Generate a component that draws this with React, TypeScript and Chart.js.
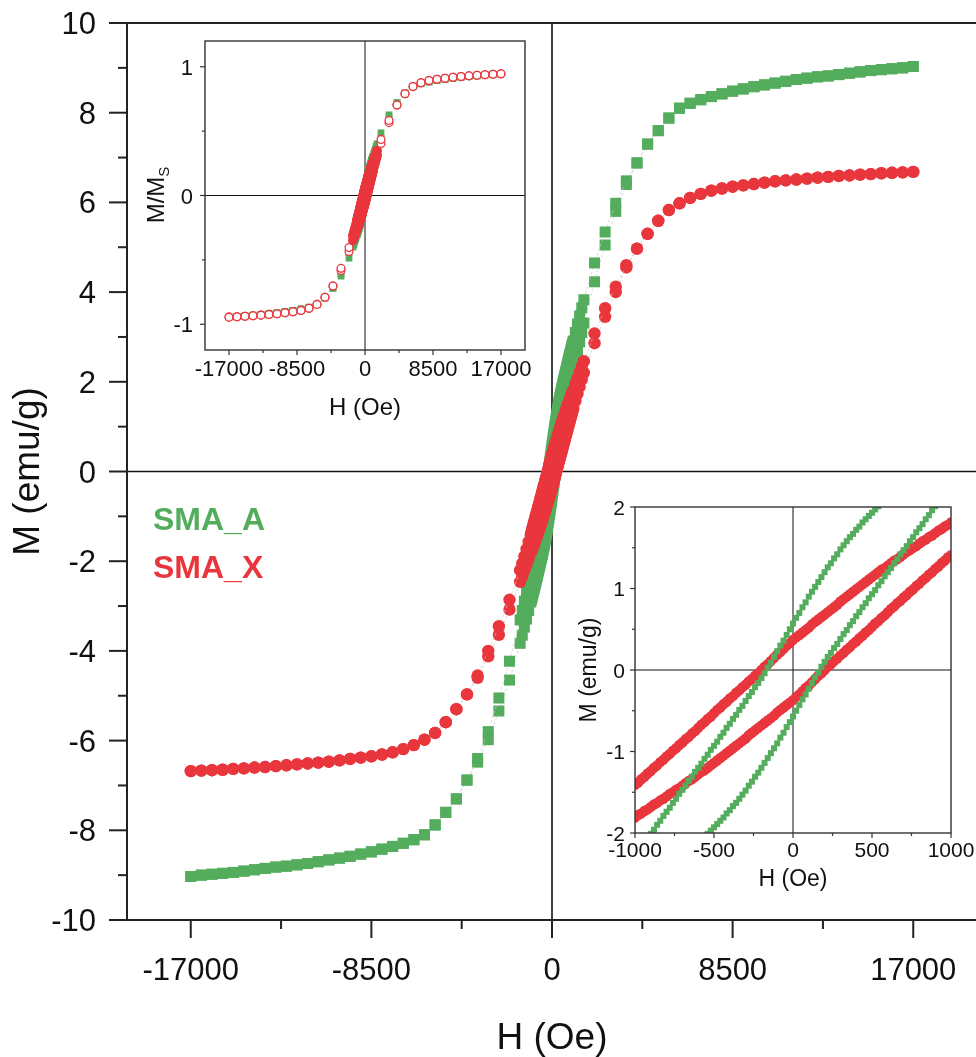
import React, { useEffect, useRef } from 'react';
import { Chart, registerables } from 'chart.js';

Chart.register(...registerables);

// ---------------- data ----------------
// field grid, Oe
const H_NEG = [
  -17000, -16500, -16000, -15500, -15000, -14500, -14000, -13500, -13000, -12500,
  -12000, -11500, -11000, -10500, -10000, -9500, -9000, -8500, -8000, -7500,
  -7000, -6500, -6000, -5500, -5000, -4500, -4000, -3500, -3000, -2500,
  -2000, -1500, -1400, -1300, -1200, -1100,
];
const H_INNER = [
  -1000, -980, -960, -940, -920, -900, -880, -860, -840, -820,
  -800, -780, -760, -740, -720, -700, -680, -660, -640, -620,
  -600, -580, -560, -540, -520, -500, -480, -460, -440, -420,
  -400, -380, -360, -340, -320, -300, -280, -260, -240, -220,
  -200, -180, -160, -140, -120, -100, -80, -60, -40, -20,
  0, 20, 40, 60, 80, 100, 120, 140, 160, 180,
  200, 220, 240, 260, 280, 300, 320, 340, 360, 380,
  400, 420, 440, 460, 480, 500, 520, 540, 560, 580,
  600, 620, 640, 660, 680, 700, 720, 740, 760, 780,
  800, 820, 840, 860, 880, 900, 920, 940, 960, 980,
  1000,
];
const H_POS = [
  1100, 1200, 1300, 1400, 1500, 2000, 2500, 3000, 3500, 4000,
  4500, 5000, 5500, 6000, 6500, 7000, 7500, 8000, 8500, 9000,
  9500, 10000, 10500, 11000, 11500, 12000, 12500, 13000, 13500, 14000,
  14500, 15000, 15500, 16000, 16500, 17000,
];

// SMA_A (green), descending-field branch, emu/g
const GREEN_DESC_NEG = [
  -9.03, -9.00, -8.98, -8.96, -8.94, -8.91, -8.88, -8.85, -8.82, -8.80,
  -8.77, -8.74, -8.70, -8.66, -8.62, -8.58, -8.53, -8.48, -8.42, -8.36,
  -8.29, -8.21, -8.10, -7.88, -7.60, -7.30, -6.88, -6.40, -5.80, -5.05,
  -4.23, -3.31, -3.10, -2.89, -2.68, -2.47,
];
const GREEN_DESC_INNER = [
  -2.26, -2.21, -2.16, -2.11, -2.06, -2.01, -1.96, -1.90, -1.85, -1.79,
  -1.74, -1.69, -1.63, -1.58, -1.52, -1.47, -1.42, -1.36, -1.31, -1.25,
  -1.20, -1.15, -1.09, -1.04, -0.98, -0.93, -0.88, -0.82, -0.77, -0.71,
  -0.66, -0.60, -0.55, -0.49, -0.44, -0.38, -0.32, -0.27, -0.21, -0.16,
  -0.10, -0.04, 0.03, 0.09, 0.16, 0.23, 0.30, 0.36, 0.43, 0.50,
  0.57, 0.64, 0.70, 0.77, 0.83, 0.90, 0.96, 1.02, 1.08, 1.14,
  1.20, 1.26, 1.31, 1.37, 1.42, 1.48, 1.53, 1.58, 1.63, 1.67,
  1.72, 1.76, 1.81, 1.85, 1.89, 1.93, 1.97, 2.01, 2.05, 2.09,
  2.13, 2.17, 2.21, 2.25, 2.29, 2.33, 2.37, 2.41, 2.45, 2.49,
  2.53, 2.57, 2.61, 2.64, 2.68, 2.72, 2.76, 2.80, 2.83, 2.87,
  2.91,
];
const GREEN_DESC_POS = [
  3.10, 3.29, 3.47, 3.65, 3.83, 4.65, 5.34, 5.98, 6.48, 6.88,
  7.30, 7.60, 7.88, 8.10, 8.21, 8.29, 8.36, 8.42, 8.48, 8.53,
  8.58, 8.62, 8.66, 8.70, 8.74, 8.77, 8.80, 8.82, 8.85, 8.88,
  8.91, 8.94, 8.96, 8.98, 9.00, 9.03,
];
// SMA_A (green), ascending-field branch
const GREEN_ASC_NEG = [
  -9.03, -9.00, -8.98, -8.96, -8.94, -8.91, -8.88, -8.85, -8.82, -8.80,
  -8.77, -8.74, -8.70, -8.66, -8.62, -8.58, -8.53, -8.48, -8.42, -8.36,
  -8.29, -8.21, -8.10, -7.88, -7.60, -7.30, -6.88, -6.48, -5.98, -5.34,
  -4.65, -3.83, -3.65, -3.47, -3.29, -3.10,
];
const GREEN_ASC_INNER = [
  -2.91, -2.87, -2.83, -2.80, -2.76, -2.72, -2.68, -2.64, -2.61, -2.57,
  -2.53, -2.49, -2.45, -2.41, -2.37, -2.33, -2.29, -2.25, -2.21, -2.17,
  -2.13, -2.09, -2.05, -2.01, -1.97, -1.93, -1.89, -1.85, -1.81, -1.76,
  -1.72, -1.67, -1.63, -1.58, -1.53, -1.48, -1.42, -1.37, -1.31, -1.26,
  -1.20, -1.14, -1.08, -1.02, -0.96, -0.90, -0.83, -0.77, -0.70, -0.64,
  -0.57, -0.50, -0.43, -0.36, -0.30, -0.23, -0.16, -0.09, -0.03, 0.04,
  0.10, 0.16, 0.21, 0.27, 0.32, 0.38, 0.44, 0.49, 0.55, 0.60,
  0.66, 0.71, 0.77, 0.82, 0.88, 0.93, 0.98, 1.04, 1.09, 1.15,
  1.20, 1.25, 1.31, 1.36, 1.42, 1.47, 1.52, 1.58, 1.63, 1.69,
  1.74, 1.79, 1.85, 1.90, 1.96, 2.01, 2.06, 2.11, 2.16, 2.21,
  2.26,
];
const GREEN_ASC_POS = [
  2.47, 2.68, 2.89, 3.10, 3.31, 4.23, 5.05, 5.80, 6.40, 6.88,
  7.30, 7.60, 7.88, 8.10, 8.21, 8.29, 8.36, 8.42, 8.48, 8.53,
  8.58, 8.62, 8.66, 8.70, 8.74, 8.77, 8.80, 8.82, 8.85, 8.88,
  8.91, 8.94, 8.96, 8.98, 9.00, 9.03,
];

// SMA_X (red), descending-field branch
const RED_DESC_NEG = [
  -6.68, -6.67, -6.66, -6.65, -6.63, -6.62, -6.60, -6.59, -6.57, -6.55,
  -6.53, -6.51, -6.49, -6.47, -6.44, -6.41, -6.38, -6.35, -6.31, -6.26,
  -6.19, -6.10, -5.98, -5.83, -5.59, -5.30, -4.97, -4.55, -4.00, -3.45,
  -2.86, -2.20, -2.05, -1.89, -1.73, -1.57,
];
const RED_DESC_INNER = [
  -1.41, -1.38, -1.34, -1.31, -1.27, -1.24, -1.20, -1.17, -1.13, -1.10,
  -1.06, -1.03, -0.99, -0.96, -0.92, -0.89, -0.85, -0.82, -0.78, -0.75,
  -0.71, -0.67, -0.64, -0.60, -0.57, -0.53, -0.49, -0.46, -0.42, -0.39,
  -0.35, -0.32, -0.28, -0.25, -0.21, -0.18, -0.14, -0.11, -0.07, -0.04,
  0.00, 0.04, 0.07, 0.11, 0.15, 0.19, 0.22, 0.26, 0.30, 0.33,
  0.37, 0.40, 0.43, 0.46, 0.49, 0.52, 0.56, 0.59, 0.62, 0.65,
  0.68, 0.71, 0.74, 0.77, 0.80, 0.84, 0.87, 0.90, 0.93, 0.96,
  0.99, 1.02, 1.05, 1.08, 1.11, 1.14, 1.17, 1.20, 1.23, 1.25,
  1.28, 1.31, 1.34, 1.36, 1.39, 1.42, 1.45, 1.47, 1.50, 1.52,
  1.55, 1.58, 1.60, 1.63, 1.65, 1.68, 1.71, 1.73, 1.76, 1.78,
  1.81,
];
const RED_DESC_POS = [
  1.95, 2.08, 2.21, 2.34, 2.46, 3.08, 3.64, 4.12, 4.60, 4.97,
  5.30, 5.59, 5.83, 5.98, 6.10, 6.19, 6.26, 6.31, 6.35, 6.38,
  6.41, 6.44, 6.47, 6.49, 6.51, 6.53, 6.55, 6.57, 6.59, 6.60,
  6.62, 6.63, 6.65, 6.66, 6.67, 6.68,
];
// SMA_X (red), ascending-field branch
const RED_ASC_NEG = [
  -6.68, -6.67, -6.66, -6.65, -6.63, -6.62, -6.60, -6.59, -6.57, -6.55,
  -6.53, -6.51, -6.49, -6.47, -6.44, -6.41, -6.38, -6.35, -6.31, -6.26,
  -6.19, -6.10, -5.98, -5.83, -5.59, -5.30, -4.97, -4.60, -4.12, -3.64,
  -3.08, -2.46, -2.34, -2.21, -2.08, -1.95,
];
const RED_ASC_INNER = [
  -1.81, -1.78, -1.76, -1.73, -1.71, -1.68, -1.65, -1.63, -1.60, -1.58,
  -1.55, -1.52, -1.50, -1.47, -1.45, -1.42, -1.39, -1.36, -1.34, -1.31,
  -1.28, -1.25, -1.23, -1.20, -1.17, -1.14, -1.11, -1.08, -1.05, -1.02,
  -0.99, -0.96, -0.93, -0.90, -0.87, -0.84, -0.80, -0.77, -0.74, -0.71,
  -0.68, -0.65, -0.62, -0.59, -0.56, -0.52, -0.49, -0.46, -0.43, -0.40,
  -0.37, -0.33, -0.30, -0.26, -0.22, -0.19, -0.15, -0.11, -0.07, -0.04,
  0.00, 0.04, 0.07, 0.11, 0.14, 0.18, 0.21, 0.25, 0.28, 0.32,
  0.35, 0.39, 0.42, 0.46, 0.49, 0.53, 0.57, 0.60, 0.64, 0.67,
  0.71, 0.75, 0.78, 0.82, 0.85, 0.89, 0.92, 0.96, 0.99, 1.03,
  1.06, 1.10, 1.13, 1.17, 1.20, 1.24, 1.27, 1.31, 1.34, 1.38,
  1.41,
];
const RED_ASC_POS = [
  1.57, 1.73, 1.89, 2.05, 2.20, 2.86, 3.45, 4.00, 4.55, 4.97,
  5.30, 5.59, 5.83, 5.98, 6.10, 6.19, 6.26, 6.31, 6.35, 6.38,
  6.41, 6.44, 6.47, 6.49, 6.51, 6.53, 6.55, 6.57, 6.59, 6.60,
  6.62, 6.63, 6.65, 6.66, 6.67, 6.68,
];

// saturation magnetisation used for the M/Ms inset
const MS_A = 9.55;
const MS_X = 7.07;

const SERIES_NAMES = ['SMA_A', 'SMA_X'];

// ticks
const MAIN_X_TICKS = [-17000, -8500, 0, 8500, 17000];
const MAIN_X_MINOR = [-12750, -4250, 4250, 12750];
const MAIN_Y_TICKS = [-10, -8, -6, -4, -2, 0, 2, 4, 6, 8, 10];
const MAIN_Y_MINOR = [-9, -7, -5, -3, -1, 1, 3, 5, 7, 9];
const IN1_X_TICKS = [-17000, -8500, 0, 8500, 17000];
const IN1_X_MINOR = [-12750, -4250, 4250, 12750];
const IN1_Y_TICKS = [-1, 0, 1];
const IN1_Y_MINOR = [-0.5, 0.5];
const IN2_X_TICKS = [-1000, -500, 0, 500, 1000];
const IN2_X_MINOR = [-750, -250, 250, 750];
const IN2_Y_TICKS = [-2, -1, 0, 1, 2];
const IN2_Y_MINOR = [-1.5, -0.5, 0.5, 1.5];

// ---------------- assembled series ----------------
const H_ALL = [...H_NEG, ...H_INNER, ...H_POS];
const GREEN_DESC = [...GREEN_DESC_NEG, ...GREEN_DESC_INNER, ...GREEN_DESC_POS];
const GREEN_ASC = [...GREEN_ASC_NEG, ...GREEN_ASC_INNER, ...GREEN_ASC_POS];
const RED_DESC = [...RED_DESC_NEG, ...RED_DESC_INNER, ...RED_DESC_POS];
const RED_ASC = [...RED_ASC_NEG, ...RED_ASC_INNER, ...RED_ASC_POS];

// ---------------- styling ----------------
const FONT = '"Liberation Sans", Arial, Helvetica, sans-serif';
const GREEN = '#54ad5d';
const RED = '#e9363d';
const INK = '#111111';
const W = 1000;
const HGT = 1057;

type P = { x: number; y: number };
function series(H: number[], M: number[], scale = 1, keep?: (h: number) => boolean): P[] {
  const out: P[] = [];
  H.forEach((h, i) => {
    if (!keep || keep(h)) out.push({ x: h, y: M[i] / scale });
  });
  return out;
}

function seg(ctx: CanvasRenderingContext2D, x1: number, y1: number, x2: number, y2: number) {
  ctx.beginPath();
  ctx.moveTo(x1, y1);
  ctx.lineTo(x2, y2);
  ctx.stroke();
}

function txt(
  ctx: CanvasRenderingContext2D, s: string, x: number, y: number, font: string,
  color: string, align: CanvasTextAlign, rot = 0,
) {
  ctx.save();
  ctx.translate(x, y);
  if (rot) ctx.rotate(rot);
  ctx.font = font;
  ctx.fillStyle = color;
  ctx.textAlign = align;
  ctx.textBaseline = 'alphabetic';
  ctx.fillText(s, 0, 0);
  ctx.restore();
}

type Deco = {
  frameColor: string; frameWidth: number;
  zeroColor: string; zeroWidth: number;
  xMajor: number[]; xMinor: number[]; yMajor: number[]; yMinor: number[];
  majorLen: number; minorLen: number; tickWidth: number; tickColor: string;
  tickFont: string; xLabelBaseline: number; yLabelRight: number; yLabelDy: number;
  extra: (ctx: CanvasRenderingContext2D) => void;
};

function decoPlugin(d: Deco) {
  return {
    id: 'deco',
    beforeDatasetsDraw(chart: any) {
      const ctx: CanvasRenderingContext2D = chart.ctx;
      const { left, right, top, bottom } = chart.chartArea;
      const x0 = chart.scales.x.getPixelForValue(0);
      const y0 = chart.scales.y.getPixelForValue(0);
      ctx.save();
      ctx.strokeStyle = d.zeroColor;
      ctx.lineWidth = d.zeroWidth;
      seg(ctx, left, y0, right, y0);
      seg(ctx, x0, top, x0, bottom);
      ctx.restore();
    },
    afterDatasetsDraw(chart: any) {
      const ctx: CanvasRenderingContext2D = chart.ctx;
      const { left, right, top, bottom } = chart.chartArea;
      const xs = chart.scales.x;
      const ys = chart.scales.y;
      ctx.save();
      ctx.strokeStyle = d.frameColor;
      ctx.lineWidth = d.frameWidth;
      ctx.strokeRect(left, top, right - left, bottom - top);
      ctx.strokeStyle = d.tickColor;
      ctx.lineWidth = d.tickWidth;
      d.xMajor.forEach((v) => { const px = xs.getPixelForValue(v); seg(ctx, px, bottom, px, bottom + d.majorLen); });
      d.xMinor.forEach((v) => { const px = xs.getPixelForValue(v); seg(ctx, px, bottom, px, bottom + d.minorLen); });
      d.yMajor.forEach((v) => { const py = ys.getPixelForValue(v); seg(ctx, left - d.majorLen, py, left, py); });
      d.yMinor.forEach((v) => { const py = ys.getPixelForValue(v); seg(ctx, left - d.minorLen, py, left, py); });
      ctx.restore();
      d.xMajor.forEach((v) => txt(ctx, String(v), xs.getPixelForValue(v), d.xLabelBaseline, d.tickFont, INK, 'center'));
      d.yMajor.forEach((v) => txt(ctx, String(v), d.yLabelRight, ys.getPixelForValue(v) + d.yLabelDy, d.tickFont, INK, 'right'));
      d.extra(ctx);
    },
  };
}

function options(pad: any, xr: [number, number], yr: [number, number], yW: number, xH: number) {
  const axis = (min: number, max: number, pos: string, fit: (s: any) => void) => ({
    type: 'linear', position: pos, min, max, bounds: 'data',
    ticks: { display: false }, grid: { display: false, drawTicks: false },
    border: { display: false }, title: { display: false }, afterFit: fit,
  });
  return {
    animation: false, responsive: false, maintainAspectRatio: false, devicePixelRatio: 1,
    events: [],
    layout: { padding: pad },
    plugins: { legend: { display: false }, tooltip: { enabled: false }, title: { display: false } },
    scales: {
      x: axis(xr[0], xr[1], 'bottom', (s: any) => { s.height = xH; }),
      y: axis(yr[0], yr[1], 'left', (s: any) => { s.width = yW; }),
    },
  };
}

function pointSet(data: P[], style: string, r: number, fill: string, order: number, extra: any = {}) {
  return {
    data, pointStyle: style, pointRadius: r, pointHoverRadius: r,
    pointBackgroundColor: fill, pointBorderColor: fill, pointBorderWidth: 0,
    showLine: false, order, clip: 0, ...extra,
  };
}

const thinLine = { showLine: true, borderColor: 'rgba(200,200,200,0.85)', borderWidth: 0.8, borderDash: [3, 2] };

function mainConfig(): any {
  const datasets = [
    pointSet(series(H_ALL, RED_DESC), 'circle', 6.2, RED, 0, thinLine),
    pointSet(series(H_ALL, RED_ASC), 'circle', 6.2, RED, 1, thinLine),
    pointSet(series(H_ALL, GREEN_DESC), 'rect', 7.8, GREEN, 2, thinLine),
    pointSet(series(H_ALL, GREEN_ASC), 'rect', 7.8, GREEN, 3, thinLine),
  ];
  const deco = decoPlugin({
    frameColor: '#222', frameWidth: 2, zeroColor: '#111', zeroWidth: 1.6,
    xMajor: MAIN_X_TICKS, xMinor: MAIN_X_MINOR, yMajor: MAIN_Y_TICKS, yMinor: MAIN_Y_MINOR,
    majorLen: 18, minorLen: 9, tickWidth: 2, tickColor: '#222',
    tickFont: `31px ${FONT}`, xLabelBaseline: 980, yLabelRight: 96, yLabelDy: 11,
    extra: (ctx) => {
      txt(ctx, 'M (emu/g)', 39, 471.5, `37px ${FONT}`, INK, 'center', -Math.PI / 2);
      txt(ctx, 'H (Oe)', 552, 1049, `37px ${FONT}`, INK, 'center');
      txt(ctx, SERIES_NAMES[0], 153, 530, `bold 32px ${FONT}`, GREEN, 'left');
      txt(ctx, SERIES_NAMES[1], 153, 578, `bold 32px ${FONT}`, RED, 'left');
    },
  });
  return {
    type: 'scatter', data: { datasets },
    options: options({ left: 0, top: 23, right: W - 977, bottom: 0 }, [-20000, 20000], [-10, 10], 127, HGT - 920),
    plugins: [deco],
  };
}

function inset1Config(): any {
  const dense = (h: number) => Math.abs(h) <= 1500;
  const sparse = (h: number) => Math.abs(h) > 1500 && h % 1000 === 0;
  const keep = (h: number) => dense(h) || sparse(h);
  const datasets = [
    pointSet(series(H_ALL, RED_DESC, MS_X, sparse), 'circle', 3.9, '#ffffff', 0, { pointBorderColor: RED, pointBorderWidth: 1.3 }),
    pointSet(series(H_ALL, RED_ASC, MS_X, sparse), 'circle', 3.9, '#ffffff', 1, { pointBorderColor: RED, pointBorderWidth: 1.3 }),
    pointSet(series(H_ALL, RED_DESC, MS_X, dense), 'circle', 5, RED, 2),
    pointSet(series(H_ALL, RED_ASC, MS_X, dense), 'circle', 5, RED, 3),
    pointSet(series(H_ALL, GREEN_DESC, MS_A, keep), 'rect', 4.8, GREEN, 4),
    pointSet(series(H_ALL, GREEN_ASC, MS_A, keep), 'rect', 4.8, GREEN, 5),
  ];
  const deco = decoPlugin({
    frameColor: '#333', frameWidth: 1.4, zeroColor: '#111', zeroWidth: 1,
    xMajor: IN1_X_TICKS, xMinor: IN1_X_MINOR, yMajor: IN1_Y_TICKS, yMinor: IN1_Y_MINOR,
    majorLen: 5, minorLen: 3, tickWidth: 1.2, tickColor: '#333',
    tickFont: `22px ${FONT}`, xLabelBaseline: 376, yLabelRight: 193, yLabelDy: 8,
    extra: (ctx) => {
      txt(ctx, 'H (Oe)', 365, 415, `24px ${FONT}`, INK, 'center');
      ctx.save();
      ctx.translate(164, 195);
      ctx.rotate(-Math.PI / 2);
      ctx.fillStyle = INK;
      ctx.textBaseline = 'alphabetic';
      ctx.font = `24px ${FONT}`;
      const w1 = ctx.measureText('M/M').width;
      ctx.font = `15px ${FONT}`;
      const w2 = ctx.measureText('S').width;
      const x0 = -(w1 + w2) / 2;
      ctx.textAlign = 'left';
      ctx.font = `24px ${FONT}`;
      ctx.fillText('M/M', x0, 0);
      ctx.font = `15px ${FONT}`;
      ctx.fillText('S', x0 + w1, 5);
      ctx.restore();
    },
  });
  return {
    type: 'scatter', data: { datasets },
    options: options({ left: 0, top: 41, right: W - 525, bottom: 0 }, [-20000, 20000], [-1.2, 1.2], 205, HGT - 350),
    plugins: [deco],
  };
}

function inset2Config(): any {
  const datasets = [
    pointSet(series(H_ALL, GREEN_DESC), 'rect', 4.25, GREEN, 0),
    pointSet(series(H_ALL, GREEN_ASC), 'rect', 4.25, GREEN, 1),
    pointSet(series(H_ALL, RED_DESC), 'circle', 5.2, RED, 2),
    pointSet(series(H_ALL, RED_ASC), 'circle', 5.2, RED, 3),
  ];
  const deco = decoPlugin({
    frameColor: '#333', frameWidth: 1.4, zeroColor: '#111', zeroWidth: 1,
    xMajor: IN2_X_TICKS, xMinor: IN2_X_MINOR, yMajor: IN2_Y_TICKS, yMinor: IN2_Y_MINOR,
    majorLen: 5, minorLen: 3, tickWidth: 1.2, tickColor: '#333',
    tickFont: `21px ${FONT}`, xLabelBaseline: 857, yLabelRight: 625, yLabelDy: 7.5,
    extra: (ctx) => {
      txt(ctx, 'H (Oe)', 793, 886, `23px ${FONT}`, INK, 'center');
      txt(ctx, 'M (emu/g)', 596, 670, `23px ${FONT}`, INK, 'center', -Math.PI / 2);
    },
  });
  return {
    type: 'scatter', data: { datasets },
    options: options({ left: 0, top: 507, right: W - 951, bottom: 0 }, [-1000, 1000], [-2, 2], 635, HGT - 833),
    plugins: [deco],
  };
}

export default function App() {
  const mainRef = useRef<HTMLCanvasElement>(null);
  const in1Ref = useRef<HTMLCanvasElement>(null);
  const in2Ref = useRef<HTMLCanvasElement>(null);

  useEffect(() => {
    const charts = [
      new Chart(mainRef.current as HTMLCanvasElement, mainConfig()),
      new Chart(in1Ref.current as HTMLCanvasElement, inset1Config()),
      new Chart(in2Ref.current as HTMLCanvasElement, inset2Config()),
    ];
    return () => charts.forEach((c) => c.destroy());
  }, []);

  const cs: React.CSSProperties = { position: 'absolute', left: 0, top: 0, width: W, height: HGT };
  return (
    <div style={{ position: 'fixed', left: 0, top: 0, width: 976, height: HGT, overflow: 'hidden', background: '#ffffff' }}>
      <canvas ref={mainRef} width={W} height={HGT} style={cs} />
      <canvas ref={in1Ref} width={W} height={HGT} style={cs} />
      <canvas ref={in2Ref} width={W} height={HGT} style={cs} />
    </div>
  );
}
